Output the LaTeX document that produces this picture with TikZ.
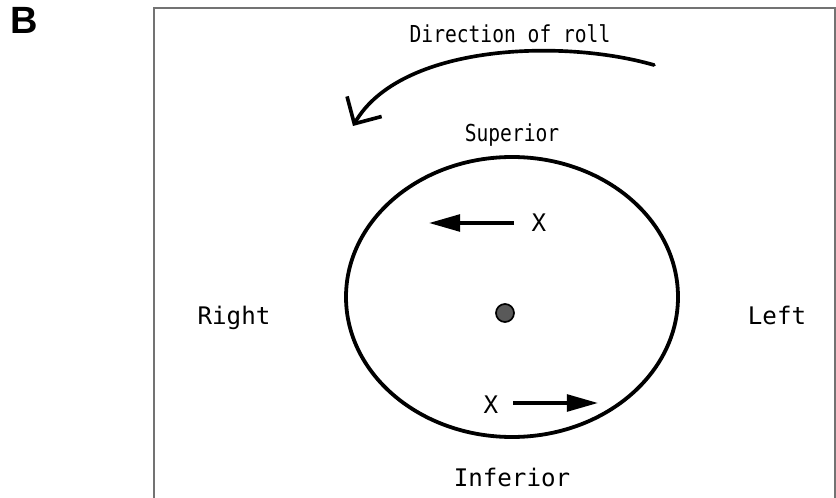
\documentclass[tikz,border=0pt]{standalone}
\usepackage{fontspec}
\setsansfont{Liberation Sans}
\newfontfamily\labelfont[FakeStretch=0.84]{DejaVu Sans Mono}
\newfontfamily\sidefont[FakeStretch=1.0]{DejaVu Sans Mono}
\usetikzlibrary{arrows.meta}

\tikzset{
  lbl/.style={anchor=base, inner sep=0pt},
  widelbl/.style={lbl, font=\sidefont\fontsize{17.2}{20}\selectfont},
  motion/.style={line width=2.4pt, -{Triangle[length=0.78cm,width=0.42cm]}},
  frame/.style={draw=black!55, line width=1pt}
}

\begin{document}
\begin{tikzpicture}[x=0.025cm,y=-0.025cm,font=\labelfont\fontsize{16.6}{20}\selectfont]
    \useasboundingbox (0,0) rectangle (836,498);
    \draw[frame] (154,498) -- (154,8) -- (835,8) -- (835,498);
    \node[lbl,anchor=base west,font=\sffamily\bfseries\fontsize{27}{30}\selectfont] (panel) at (10,34) {B};

    % labels round the eye
    \node[lbl] (roll) at (510,43) {Direction of roll};
    \node[lbl] (sup) at (512,142) {Superior};
    \node[widelbl] (inf) at (512,486) {Inferior};
    \node[widelbl] (right) at (234,325) {Right};
    \node[widelbl] (left) at (777,325) {Left};

    % globe
    \draw[line width=2.7pt] (512,297) ellipse [x radius=166, y radius=140];
    \node[circle,draw=black,fill=black!65,line width=1.2pt,inner sep=0pt,minimum size=0.45cm] (axis) at (505,313) {};

    % points and their motion
    \node[widelbl] (xtop) at (539,232) {X};
    \node[widelbl] (xbot) at (491,413) {X};
    \coordinate (toptail) at (514,223);
    \coordinate (toptip) at (429,223);
    \coordinate (bottail) at (513,403);
    \coordinate (bottip) at (598,403);
    \draw[motion] (toptail) -- (toptip);
    \draw[motion] (bottail) -- (bottip);

    % roll arrow
    \coordinate (rollstart) at (654,65);
    \coordinate (rollend) at (353,126);
    \draw[line width=2.6pt, line cap=round, -{Straight Barb[length=0.5cm,width=1cm]}]
      (rollstart) .. controls (560,38) and (400,45) .. (rollend);
\end{tikzpicture}
\end{document}
